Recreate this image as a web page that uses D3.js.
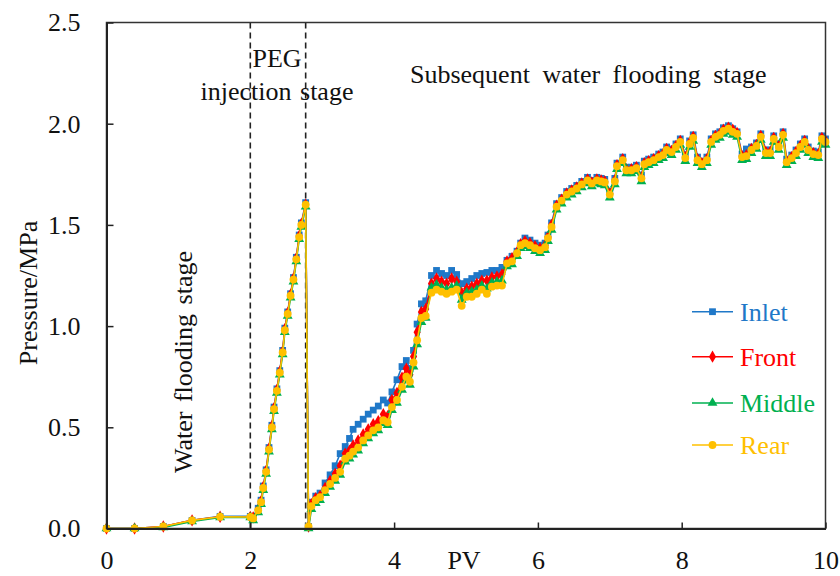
<!DOCTYPE html>
<html>
<head>
<meta charset="utf-8">
<script src="https://cdn.jsdelivr.net/npm/d3@7/dist/d3.min.js"></script>
<style>
  html, body { margin: 0; padding: 0; background: #fff; }
  svg { display: block; }
  text { font-family: "Liberation Serif", "Times New Roman", serif; }
</style>
</head>
<body>
<svg id="chart" width="840" height="576"></svg>
<script>
// ---------------- DATA ----------------
const pv = [
  0, 0.39, 0.79, 1.19, 1.58, 2.00,
  2.04, 2.11, 2.15, 2.18, 2.22, 2.26, 2.30, 2.33, 2.37, 2.41, 2.45, 2.48, 2.52, 2.56, 2.60, 2.64, 2.68, 2.71, 2.77,
  2.81, 2.85, 2.91, 2.97, 3.04, 3.11, 3.18, 3.25, 3.32, 3.38,
  3.43, 3.50, 3.57, 3.64, 3.71, 3.78, 3.85, 3.91, 3.97, 4.04,
  4.11, 4.17, 4.22, 4.27, 4.32, 4.38, 4.44,
  4.52, 4.59, 4.66, 4.73, 4.80, 4.87, 4.94, 5.01, 5.08, 5.15,
  5.22, 5.29, 5.36, 5.43, 5.50, 5.57, 5.64, 5.71, 5.76, 5.82,
  5.89, 5.96, 6.03, 6.10, 6.14, 6.19, 6.26, 6.33, 6.40, 6.47,
  6.54, 6.61, 6.69, 6.75, 6.82, 6.88, 6.93, 7.00, 7.07, 7.10,
  7.18, 7.23, 7.30, 7.37, 7.44, 7.48, 7.54, 7.61, 7.68, 7.74,
  7.79, 7.86, 7.92, 7.98,
  8.05, 8.11, 8.16, 8.22, 8.28, 8.35, 8.41, 8.47, 8.53, 8.58,
  8.65, 8.71, 8.77, 8.84, 8.90, 8.97, 9.04, 9.10, 9.17, 9.23,
  9.28, 9.35, 9.41, 9.46, 9.53, 9.59, 9.65, 9.71, 9.76, 9.83,
  9.90, 9.95, 10.0
];

const inlet = [
  0.00, 0.00, 0.01, 0.04, 0.06, 0.06,
  0.06, 0.10, 0.14, 0.21, 0.29, 0.40, 0.51, 0.60, 0.69, 0.78, 0.88, 0.99, 1.07, 1.16, 1.24, 1.34, 1.45, 1.51, 1.61,
  0.01, 0.13, 0.16, 0.175, 0.225, 0.265, 0.31, 0.37, 0.405, 0.445,
  0.49, 0.515, 0.54, 0.565, 0.585, 0.605, 0.635, 0.62, 0.675, 0.735,
  0.80, 0.83, 0.79, 0.88, 1.01, 1.11, 1.125,
  1.25, 1.275, 1.26, 1.25, 1.275, 1.255, 1.21, 1.22, 1.235, 1.25,
  1.26, 1.265, 1.275, 1.275, 1.29, 1.325, 1.345, 1.37, 1.41, 1.435,
  1.425, 1.41, 1.40, 1.41, 1.45, 1.51, 1.605, 1.635, 1.665, 1.68,
  1.695, 1.715, 1.735, 1.72, 1.735, 1.73, 1.725, 1.665, 1.73, 1.805,
  1.835, 1.785, 1.785, 1.795, 1.745, 1.815, 1.825, 1.835, 1.85, 1.86,
  1.885, 1.875, 1.90, 1.925,
  1.845, 1.915, 1.945, 1.835, 1.815, 1.835, 1.925, 1.95, 1.96, 1.98,
  1.99, 1.975, 1.96, 1.85, 1.875, 1.885, 1.905, 1.95, 1.87, 1.87,
  1.94, 1.90, 1.96, 1.825, 1.845, 1.87, 1.90, 1.925, 1.885, 1.865,
  1.86, 1.94, 1.925
];

const front = [
  0.00, 0.00, 0.01, 0.04, 0.058, 0.057,
  0.055, 0.095, 0.135, 0.205, 0.285, 0.395, 0.505, 0.595, 0.685, 0.775, 0.875, 0.985, 1.065, 1.155, 1.235, 1.335, 1.445, 1.505, 1.60,
  0.01, 0.12, 0.15, 0.16, 0.20, 0.235, 0.27, 0.31, 0.37, 0.385,
  0.41, 0.435, 0.465, 0.49, 0.515, 0.53, 0.565, 0.555, 0.635, 0.67,
  0.745, 0.79, 0.76, 0.85, 0.97, 1.07, 1.085,
  1.21, 1.235, 1.22, 1.21, 1.235, 1.22, 1.165, 1.185, 1.195, 1.21,
  1.225, 1.225, 1.24, 1.245, 1.255, 1.32, 1.335, 1.365, 1.405, 1.42,
  1.41, 1.395, 1.385, 1.40, 1.44, 1.50, 1.595, 1.625, 1.655, 1.67,
  1.685, 1.705, 1.725, 1.71, 1.725, 1.72, 1.715, 1.655, 1.72, 1.795,
  1.825, 1.775, 1.775, 1.785, 1.735, 1.805, 1.815, 1.825, 1.84, 1.85,
  1.875, 1.865, 1.89, 1.915,
  1.835, 1.905, 1.935, 1.825, 1.805, 1.825, 1.915, 1.94, 1.95, 1.97,
  1.98, 1.97, 1.955, 1.84, 1.845, 1.875, 1.895, 1.94, 1.86, 1.86,
  1.93, 1.89, 1.95, 1.815, 1.835, 1.86, 1.89, 1.915, 1.875, 1.855,
  1.85, 1.93, 1.915
];

const middle = [
  0.00, 0.00, 0.005, 0.035, 0.055, 0.055,
  0.04, 0.08, 0.12, 0.19, 0.27, 0.38, 0.49, 0.58, 0.67, 0.76, 0.86, 0.97, 1.05, 1.14, 1.22, 1.32, 1.43, 1.49, 1.59,
  0.00, 0.095, 0.125, 0.14, 0.175, 0.205, 0.235, 0.265, 0.33, 0.345,
  0.365, 0.385, 0.42, 0.445, 0.47, 0.485, 0.52, 0.51, 0.585, 0.62,
  0.685, 0.735, 0.71, 0.80, 0.91, 1.02, 1.04,
  1.19, 1.205, 1.19, 1.18, 1.19, 1.20, 1.13, 1.165, 1.17, 1.18,
  1.20, 1.185, 1.215, 1.22, 1.225, 1.295, 1.305, 1.345, 1.385, 1.395,
  1.385, 1.37, 1.36, 1.375, 1.42, 1.475, 1.575, 1.605, 1.635, 1.65,
  1.665, 1.685, 1.705, 1.69, 1.705, 1.70, 1.695, 1.635, 1.70, 1.775,
  1.805, 1.755, 1.755, 1.765, 1.715, 1.785, 1.795, 1.805, 1.82, 1.83,
  1.855, 1.845, 1.87, 1.895,
  1.815, 1.885, 1.915, 1.805, 1.785, 1.805, 1.895, 1.92, 1.93, 1.95,
  1.96, 1.945, 1.935, 1.82, 1.825, 1.855, 1.875, 1.92, 1.84, 1.84,
  1.91, 1.87, 1.93, 1.795, 1.815, 1.84, 1.87, 1.895, 1.855, 1.835,
  1.83, 1.91, 1.895
];

const rear = [
  0.00, 0.00, 0.01, 0.04, 0.058, 0.057,
  0.05, 0.09, 0.13, 0.20, 0.28, 0.39, 0.50, 0.59, 0.68, 0.77, 0.87, 0.98, 1.06, 1.15, 1.23, 1.33, 1.44, 1.50, 1.60,
  0.01, 0.11, 0.14, 0.155, 0.19, 0.22, 0.25, 0.28, 0.345, 0.36,
  0.38, 0.40, 0.435, 0.46, 0.485, 0.50, 0.535, 0.525, 0.60, 0.635,
  0.70, 0.75, 0.725, 0.82, 0.93, 1.04, 1.05,
  1.165, 1.18, 1.17, 1.16, 1.17, 1.18, 1.10, 1.145, 1.145, 1.16,
  1.18, 1.16, 1.195, 1.20, 1.20, 1.31, 1.32, 1.36, 1.40, 1.41,
  1.40, 1.385, 1.375, 1.39, 1.435, 1.49, 1.59, 1.62, 1.65, 1.665,
  1.68, 1.70, 1.72, 1.705, 1.72, 1.715, 1.71, 1.65, 1.715, 1.79,
  1.82, 1.77, 1.77, 1.78, 1.73, 1.80, 1.81, 1.82, 1.835, 1.845,
  1.87, 1.86, 1.885, 1.91,
  1.83, 1.90, 1.93, 1.82, 1.80, 1.82, 1.91, 1.935, 1.945, 1.965,
  1.975, 1.96, 1.95, 1.835, 1.84, 1.87, 1.89, 1.935, 1.855, 1.855,
  1.925, 1.885, 1.945, 1.81, 1.83, 1.855, 1.885, 1.91, 1.87, 1.85,
  1.845, 1.925, 1.91
];

const seriesNames = ["Inlet", "Front", "Middle", "Rear"];
const seriesValues = [inlet, front, middle, rear];
const seriesColors = ["#1F78C8", "#FF0000", "#00B050", "#FFC000"];
const seriesSymbols = [d3.symbolSquare, d3.symbolDiamond, d3.symbolTriangle, d3.symbolCircle];
const seriesSymbolSizes = [46, 44, 42, 48];

const xTicks = [0, 2, 4, 6, 8, 10];
const yTicks = [0, 0.5, 1.0, 1.5, 2.0, 2.5];
const stageLines = [2.0, 2.77];

// ---------------- CHART ----------------
const svg = d3.select("#chart");
const L = 106.5, R = 825.5, T = 22.5, B = 528.5;
const x = d3.scaleLinear().domain([0, 10]).range([L, R]);
const y = d3.scaleLinear().domain([0, 2.5]).range([B, T]);
const FS = 26;
const FONT = "'Liberation Serif', 'Times New Roman', serif";

// stage dashed lines
svg.append("g").selectAll("line").data(stageLines).join("line")
  .attr("x1", d => x(d)).attr("x2", d => x(d))
  .attr("y1", T).attr("y2", B)
  .attr("stroke", "#222").attr("stroke-width", 1.6)
  .attr("stroke-dasharray", "6,4");

// series
const line = d3.line().x((d, i) => x(pv[i])).y(d => y(d));
seriesValues.forEach((vals, k) => {
  const g = svg.append("g");
  g.append("path").datum(vals)
    .attr("d", line)
    .attr("fill", "none")
    .attr("stroke", seriesColors[k])
    .attr("stroke-width", 1.6)
    .attr("stroke-linejoin", "round");
  g.selectAll("path.m").data(vals).join("path")
    .attr("class", "m")
    .attr("d", d3.symbol().type(seriesSymbols[k]).size(seriesSymbolSizes[k]))
    .attr("transform", (d, i) => `translate(${x(pv[i])},${y(d)})`)
    .attr("fill", seriesColors[k]);
});

// frame
svg.append("rect")
  .attr("x", L).attr("y", T).attr("width", R - L).attr("height", B - T)
  .attr("fill", "none").attr("stroke", "#333").attr("stroke-width", 1.5);

// axes
const xAxis = d3.axisBottom(x).tickValues(xTicks).tickFormat(d3.format("d"))
  .tickSizeInner(-6).tickSizeOuter(0).tickPadding(22);
const gx = svg.append("g").attr("transform", `translate(0,${B})`).call(xAxis);
const yAxis = d3.axisLeft(y).tickValues(yTicks).tickFormat(d3.format(".1f"))
  .tickSizeInner(-7).tickSizeOuter(0).tickPadding(26);
const gy = svg.append("g").attr("transform", `translate(${L},0)`).call(yAxis);
[gx, gy].forEach(g => {
  g.attr("font-family", null);
  g.select(".domain").attr("stroke", "#222").attr("stroke-width", 2);
  g.selectAll(".tick line").attr("stroke", "#222").attr("stroke-width", 1.5);
  g.selectAll(".tick text").attr("font-size", FS)
    .style("font-family", FONT).attr("fill", "#111");
});

// axis titles
svg.append("text").attr("x", 464).attr("y", 569).attr("text-anchor", "middle")
  .style("font-family", FONT).attr("font-size", FS).attr("fill", "#111").text("PV");
svg.append("text").attr("transform", "translate(37,293) rotate(-90)")
  .style("font-family", FONT)
  .attr("text-anchor", "middle").attr("font-size", FS).attr("fill", "#111").text("Pressure/MPa");

// stage annotations
svg.append("text").attr("transform", "translate(192,362) rotate(-90)")
  .style("font-family", FONT)
  .attr("text-anchor", "middle").attr("font-size", FS).attr("fill", "#111")
  .attr("word-spacing", 3).text("Water flooding stage");
svg.append("text").attr("x", 277).attr("y", 67).attr("text-anchor", "middle")
  .style("font-family", FONT)
  .attr("font-size", FS).attr("fill", "#111").text("PEG");
svg.append("text").attr("x", 277).attr("y", 100).attr("text-anchor", "middle")
  .style("font-family", FONT)
  .attr("font-size", FS).attr("fill", "#111").attr("word-spacing", 2).text("injection stage");
svg.append("text").attr("x", 410).attr("y", 83).attr("text-anchor", "start")
  .style("font-family", FONT)
  .attr("font-size", FS).attr("fill", "#111").attr("word-spacing", 6)
  .text("Subsequent water flooding stage");

// legend
const legendRows = [311.7, 356.7, 403, 445];
seriesNames.forEach((name, k) => {
  const g = svg.append("g").attr("transform", `translate(0,${legendRows[k]})`);
  g.append("line").attr("x1", 692).attr("x2", 733).attr("y1", 0).attr("y2", 0)
    .attr("stroke", seriesColors[k]).attr("stroke-width", 1.6);
  g.append("path")
    .attr("d", d3.symbol().type(seriesSymbols[k]).size(seriesSymbolSizes[k]))
    .attr("transform", "translate(712.5,0)").attr("fill", seriesColors[k]);
  g.append("text").attr("x", 740).attr("y", 9).attr("font-size", FS)
    .style("font-family", FONT)
    .attr("fill", seriesColors[k]).text(name);
});
</script>
</body>
</html>
